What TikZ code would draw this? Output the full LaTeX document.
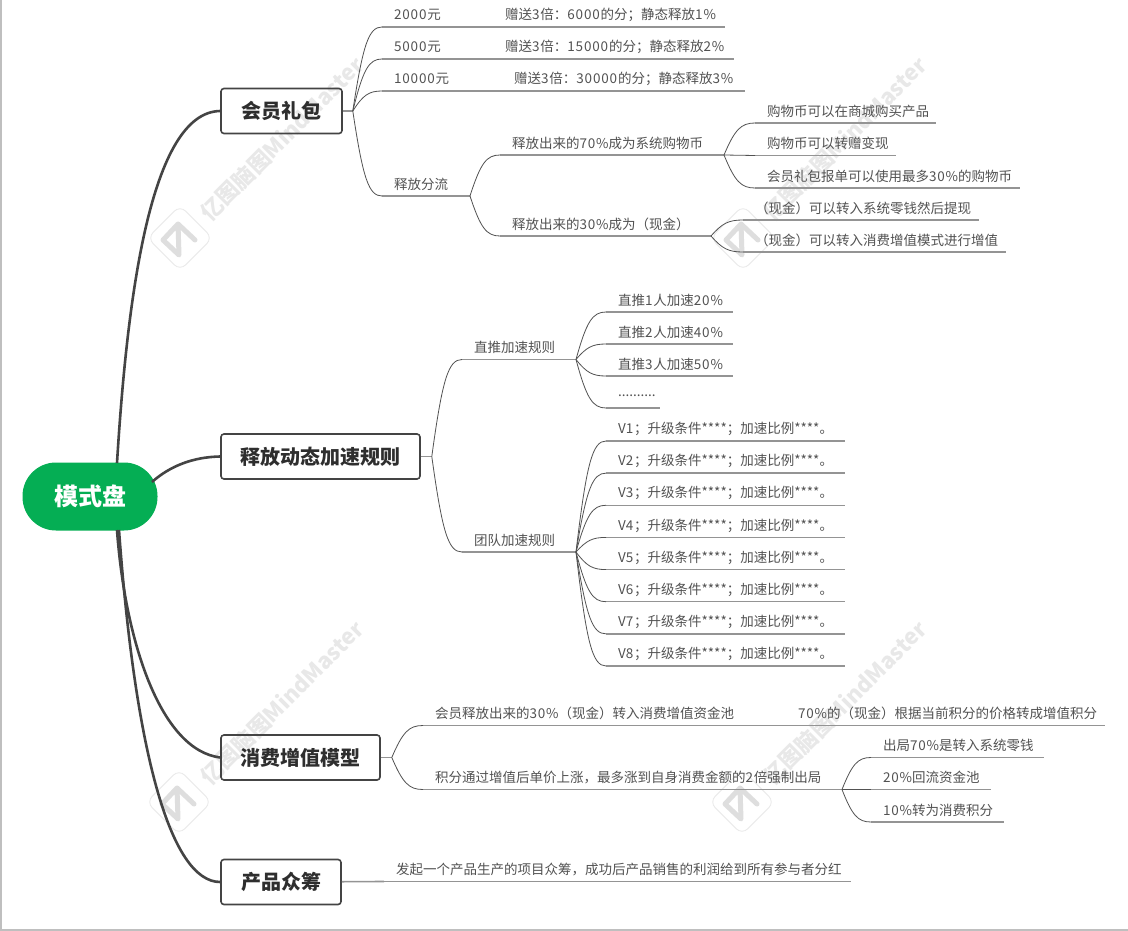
\documentclass[tikz,border=0pt]{standalone}
\usepackage{fontspec}
\setmainfont{Noto Sans CJK SC}
\usetikzlibrary{positioning,calc}
\definecolor{rootgreen}{HTML}{05AE54}
\definecolor{inkgray}{HTML}{444444}
% digits stand a little apart in the reference
\XeTeXinterchartokenstate=1
\newXeTeXintercharclass\digitcls
\count255=`0 \loop\ifnum\count255<`:\relax \XeTeXcharclass\count255=\digitcls \advance\count255 by 1 \repeat
\XeTeXinterchartoks\digitcls\digitcls={\kern.85pt\relax}
\XeTeXinterchartoks\digitcls 0={\kern.85pt\relax}
\newcommand{\wmlogo}[2]{%
  \draw[wmline,rounded corners=8pt,line width=.8pt,shift={(#1,#2)},rotate=45] (-23,-23) rectangle (23,23);
  \draw[wmline,line width=5pt,line join=round,line cap=round,draw=black!13,shift={(#1,#2)}] (-2,-14) -- (-17,2) -- (-1,17) -- cycle (-2,-14) -- (15,2);
}
\tikzset{
  rootblk/.style={rectangle,rounded corners=33.5pt,fill=rootgreen,text=white,font=\fontsize{24}{28}\selectfont\bfseries,minimum width=135pt,minimum height=68pt,inner sep=0pt},
  topicblk/.style={draw=inkgray,line width=1.6pt,rounded corners=3pt,text=black!82,font=\fontsize{20}{24}\selectfont\bfseries,minimum height=45pt,inner sep=0pt},
  leafblk/.style={anchor=south west,text=black!68,font=\fontsize{13.5}{16}\selectfont,minimum height=24pt,inner xsep=12pt,inner ysep=0pt,outer sep=0pt,align=left,text width=#1pt-24pt,
    append after command={(\tikzlastnode.south west) edge[underln] (\tikzlastnode.south east)}},
  underln/.style={draw=black!42,line width=1.4pt},
  stem/.style={draw=black!42,line width=1.6pt},
  rootarr/.style={draw=inkgray,line width=2.6pt},
  twig/.style={draw=black!68,line width=.8pt},
  fan/.style={to path={.. controls ($.35*(\tikztotarget |- \tikztostart)+.8*(\tikztostart |- \tikztotarget)-.15*(\tikztostart)$) and ($(\tikztostart |- \tikztotarget)!.55!(\tikztotarget)$) .. (\tikztotarget)}},
  wmline/.style={draw=black!9},
  wmtext/.style={text=black!9,font=\fontsize{22}{26}\selectfont\bfseries,rotate=45,inner sep=0pt}
}
\begin{document}
\begin{tikzpicture}[x=1pt,y=-1pt]
  \useasboundingbox (0,0) rectangle (1128,931);
  \fill[white] (0,0) rectangle (1128,931);
  \draw[draw=black!25,line width=1.5pt] (0.8,0) -- (0.8,930) -- (1128,930);

  % Watermarks
  \node[wmtext] (mark1) at (282,139) {亿图脑图MindMaster};
  \node[wmtext] (mark2) at (845,139) {亿图脑图MindMaster};
  \node[wmtext] (mark3) at (282,703) {亿图脑图MindMaster};
  \node[wmtext] (mark4) at (845,703) {亿图脑图MindMaster};
  \wmlogo{180}{238}
  \wmlogo{743}{238}
  \wmlogo{179}{802}
  \wmlogo{742}{802}

  % Centre and main topics
  \node[rootblk] (core) at (90,496.5) {模式盘};
  \node[topicblk,minimum width=121pt] (gift) at (281.5,111) {会员礼包};
  \node[topicblk,minimum width=199pt] (rule) at (320.5,456.5) {释放动态加速规则};
  \node[topicblk,minimum width=159pt] (grow) at (300.5,757.5) {消费增值模型};
  \node[topicblk,minimum width=120pt] (fund) at (281,882) {产品众筹};

  \coordinate[right=10pt of gift] (jgift);
  \coordinate[right=11pt of rule] (jrule);
  \coordinate[right=11pt of grow] (jgrow);

  % Member gift pack
  \node[leafblk=111] (p2000) at (382,27) {2000元};
  \node[leafblk=232,right=0pt of p2000] (s2000) {赠送3倍：6000的分；静态释放1\%};
  \node[leafblk=111] (p5000) at (382,59) {5000元};
  \node[leafblk=241,right=0pt of p5000] (s5000) {赠送3倍：15000的分；静态释放2\%};
  \node[leafblk=120] (p10000) at (382,91) {10000元};
  \node[leafblk=243,right=0pt of p10000] (s10000) {赠送3倍：30000的分；静态释放3\%};
  \node[leafblk=88] (split) at (382,196) {释放分流};
  \node[leafblk=224] (shop) at (500,155) {释放出来的70\%成为系统购物币};
  \node[leafblk=211] (cash) at (500,236) {释放出来的30\%成为（现金）};
  \node[leafblk=181] (shop1) at (755,123) {购物币可以在商城购买产品};
  \node[leafblk=141] (shop2) at (755,155.5) {购物币可以转赠变现};
  \node[leafblk=265] (shop3) at (755,188) {会员礼包报单可以使用最多30\%的购物币};
  \node[leafblk=236] (cash1) at (743,220) {（现金）可以转入系统零钱然后提现};
  \node[leafblk=263] (cash2) at (743,252) {（现金）可以转入消费增值模式进行增值};

  % Speed-up rules
  \node[leafblk=114] (direct) at (462,359.5) {直推加速规则};
  \node[leafblk=114] (team) at (462,552) {团队加速规则};
  \node[leafblk=127] (d1) at (606,312) {直推1人加速20\%};
  \node[leafblk=127,below=8pt of d1] (d2) {直推2人加速40\%};
  \node[leafblk=127,below=8pt of d2] (d3) {直推3人加速50\%};
  \node[leafblk=53.5] (d4) at (606,408) {..........};
  \node[leafblk=239] (v1) at (606,441) {V1；升级条件****；加速比例****。};
  \node[leafblk=239,below=8.14pt of v1] (v2) {V2；升级条件****；加速比例****。};
  \node[leafblk=239,below=8.14pt of v2] (v3) {V3；升级条件****；加速比例****。};
  \node[leafblk=239,below=8.14pt of v3] (v4) {V4；升级条件****；加速比例****。};
  \node[leafblk=239,below=8.14pt of v4] (v5) {V5；升级条件****；加速比例****。};
  \node[leafblk=239,below=8.14pt of v5] (v6) {V6；升级条件****；加速比例****。};
  \node[leafblk=239,below=8.14pt of v6] (v7) {V7；升级条件****；加速比例****。};
  \node[leafblk=239,below=8.14pt of v7] (v8) {V8；升级条件****；加速比例****。};

  % Consumption growth model
  \node[leafblk=363] (pool) at (423,725.5) {会员释放出来的30\%（现金）转入消费增值资金池};
  \node[leafblk=319,right=0pt of pool] (conv) {70\%的（现金）根据当前积分的价格转成增值积分};
  \node[leafblk=419] (exit) at (423,789.5) {积分通过增值后单价上涨，最多涨到自身消费金额的2倍强制出局};
  \node[leafblk=173] (exit1) at (871,757.5) {出局70\%是转入系统零钱};
  \node[leafblk=120] (exit2) at (871,789.5) {20\%回流资金池};
  \node[leafblk=133] (exit3) at (871,822) {10\%转为消费积分};

  % Product crowdfunding
  \node[leafblk=467] (raise) at (384,881.5) {发起一个产品生产的项目众筹，成功后产品销售的利润给到所有参与者分红};

  \draw[rootarr] (117,463) .. controls (127,300) and (150,112) .. (gift.west);
  \draw[rootarr] (152,482) .. controls (170,466) and (193,457) .. (rule.west);
  \draw[rootarr] (117,530) .. controls (125,640) and (160,750) .. (grow.west);
  \draw[rootarr] (119,530) .. controls (135,750) and (170,882) .. (fund.west);

  \draw[stem] (gift) -- (jgift);
  \draw[stem] (rule) -- (jrule);
  \draw[stem] (grow) -- (jgrow);
  \draw[stem] (fund) -- (raise.south west);

  \draw[twig] (jgift) to[fan] (p2000.south west);
  \draw[twig] (jgift) to[fan] (p5000.south west);
  \draw[twig] (jgift) to[fan] (p10000.south west);
  \draw[twig] (jgift) to[fan] (split.south west);
  \draw[twig] (split.south east) to[fan] (shop.south west);
  \draw[twig] (split.south east) to[fan] (cash.south west);
  \draw[twig] (shop.south east) to[fan] (shop1.south west);
  \draw[twig] (shop.south east) -- (shop2.south west);
  \draw[twig] (shop.south east) to[fan] (shop3.south west);
  \draw[twig] (cash.south east) to[fan] (cash1.south west);
  \draw[twig] (cash.south east) to[fan] (cash2.south west);

  \draw[twig] (jrule) to[fan] (direct.south west);
  \draw[twig] (jrule) to[fan] (team.south west);
  \draw[twig] (direct.south east) to[fan] (d1.south west);
  \draw[twig] (direct.south east) to[fan] (d2.south west);
  \draw[twig] (direct.south east) to[fan] (d3.south west);
  \draw[twig] (direct.south east) to[fan] (d4.south west);
  \draw[twig] (team.south east) to[fan] (v1.south west);
  \draw[twig] (team.south east) to[fan] (v2.south west);
  \draw[twig] (team.south east) to[fan] (v3.south west);
  \draw[twig] (team.south east) to[fan] (v4.south west);
  \draw[twig] (team.south east) to[fan] (v5.south west);
  \draw[twig] (team.south east) to[fan] (v6.south west);
  \draw[twig] (team.south east) to[fan] (v7.south west);
  \draw[twig] (team.south east) to[fan] (v8.south west);

  \draw[twig] (jgrow) to[fan] (pool.south west);
  \draw[twig] (jgrow) to[fan] (exit.south west);
  \draw[twig] (exit.south east) to[fan] (exit1.south west);
  \draw[twig] (exit.south east) -- (exit2.south west);
  \draw[twig] (exit.south east) to[fan] (exit3.south west);
\end{tikzpicture}
\end{document}
